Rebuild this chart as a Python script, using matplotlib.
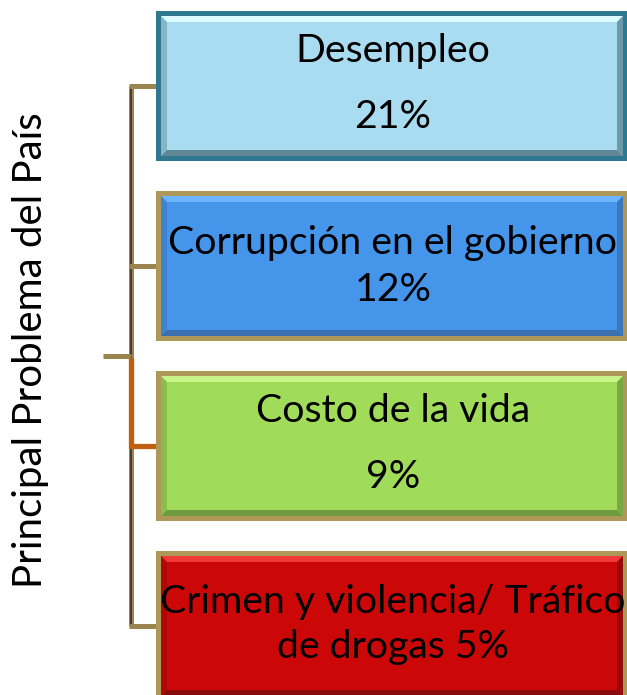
import matplotlib.pyplot as plt
from matplotlib.patches import Rectangle, Polygon

# Chart content
categories = ["Desempleo", "Corrupción en el gobierno", "Costo de la vida",
              "Crimen y violencia/ Tráfico\nde drogas"]
percentages = [21, 12, 9, 5]
fills = ["#a9dcf0", "#4595eb", "#a0db5a", "#cc0707"]
borders = ["#2f7990", "#ae9858", "#ae9858", "#ae9858"]
lights = ["#dcfbff", "#6cb4ff", "#c8f58a", "#f03a3a"]
darks = ["#5f8796", "#3a70b0", "#6f9a40", "#8a0b0b"]
title = "Principal Problema del País"

plt.rcParams['font.family'] = ['Lato', 'DejaVu Sans']

fig = plt.figure(figsize=(6.27, 6.95), dpi=100)
ax = fig.add_axes([0, 0, 1, 1])
ax.set_xlim(0, 627)
ax.set_ylim(695, 0)
ax.axis("off")

x0, x1 = 156, 628
box_h, gap, top = 150, 30, 11
bw, bv = 5, 6
line_col = "#9a8550"
spine_x = 131
fs = 28.3

def bevel_box(y0, fill, border, light, dark):
    y1 = y0 + box_h
    ax.add_patch(Rectangle((x0, y0), x1 - x0, box_h, facecolor=border, edgecolor="none", zorder=2))
    a0, a1, b0, b1 = x0 + bw, x1 - bw, y0 + bw, y1 - bw
    ax.add_patch(Rectangle((a0, b0), a1 - a0, b1 - b0, facecolor=fill, edgecolor="none", zorder=3))
    # bevel strips
    ax.add_patch(Polygon([(a0, b0), (a1, b0), (a1 - bv, b0 + bv), (a0 + bv, b0 + bv)],
                         facecolor=light, edgecolor="none", zorder=4))
    ax.add_patch(Polygon([(a0, b1), (a1, b1), (a1 - bv, b1 - bv), (a0 + bv, b1 - bv)],
                         facecolor=dark, edgecolor="none", zorder=4))
    ax.add_patch(Polygon([(a0, b0), (a0 + bv, b0 + bv), (a0 + bv, b1 - bv), (a0, b1)],
                         facecolor=dark, alpha=0.45, edgecolor="none", zorder=4))
    ax.add_patch(Polygon([(a1, b0), (a1 - bv, b0 + bv), (a1 - bv, b1 - bv), (a1, b1)],
                         facecolor=dark, alpha=0.8, edgecolor="none", zorder=4))

centers = []
for i, (cat, pct) in enumerate(zip(categories, percentages)):
    y0 = top + i * (box_h + gap)
    centers.append(y0 + box_h / 2)
    bevel_box(y0, fills[i], borders[i], lights[i], darks[i])
    cx = (x0 + x1) / 2 + 1
    if "\n" in cat:
        first, second = cat.split("\n")
        ax.text(cx, y0 + 51, first, ha="center", va="center", fontsize=fs, zorder=5)
        ax.text(cx, y0 + 96, f"{second} {pct}%", ha="center", va="center", fontsize=fs, zorder=5)
    elif i == 1:
        ax.text(cx, y0 + 52, cat, ha="center", va="center", fontsize=fs, zorder=5)
        ax.text(cx, y0 + 99, f"{pct}%", ha="center", va="center", fontsize=fs, zorder=5)
    else:
        ax.text(cx, y0 + 40, cat, ha="center", va="center", fontsize=fs, zorder=5)
        ax.text(cx, y0 + 106, f"{pct}%", ha="center", va="center", fontsize=fs, zorder=5)

# bracket connector
mid = (centers[0] + centers[-1]) / 2
ax.plot([spine_x, spine_x], [centers[0], centers[-1]], color=line_col, lw=3.6,
        solid_capstyle="butt", zorder=1)
ax.plot([spine_x, spine_x], [centers[0], centers[-1]], color="#3b3020", lw=1.2,
        solid_capstyle="butt", zorder=1)
for i, c in enumerate(centers):
    if i != 2:
        ax.plot([spine_x - 2, x0], [c, c], color=line_col, lw=3.6, solid_capstyle="butt", zorder=1)
ax.plot([103, spine_x], [mid, mid], color=line_col, lw=3.6, solid_capstyle="butt", zorder=1)
ax.plot([spine_x, spine_x, x0], [mid + 2, centers[2], centers[2]], color="#c0600f", lw=3.8,
        solid_joinstyle="miter", solid_capstyle="butt", zorder=1.5)

ax.text(31, mid - 6, title, rotation=90, ha="center", va="center", fontsize=29)

fig.savefig("out.png", dpi=100)
